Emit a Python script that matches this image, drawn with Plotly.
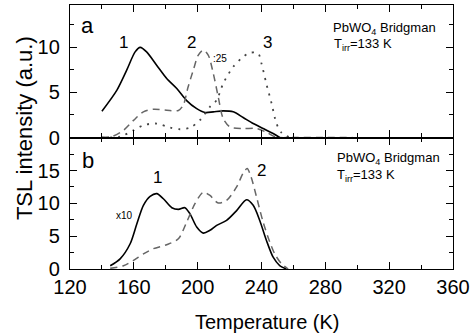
import plotly.graph_objects as go
from plotly.subplots import make_subplots

# Panel a (top)
T1a = [140, 149.4, 155.6, 160.8, 164, 168, 174.4, 180.6, 186.9, 193.1, 199.4, 204.6, 209.8, 216, 222.3, 228.5, 234.8, 241, 247.3, 251.4]
I1a = [2.92, 5.26, 7.5, 9.5, 10.0, 9.5, 8.0, 6.55, 5.44, 4.1, 3.2, 2.77, 2.85, 2.96, 2.85, 2.22, 1.55, 1.0, 0.44, 0.0]

T2a = [140, 146, 153.5, 159.8, 166, 172.3, 180.6, 187.9, 191, 194, 197.3, 200.4, 203.5, 206.6, 209.8, 212.9, 216, 220.2, 228.5, 236.9, 243, 249, 260, 280, 297]
I2a = [0.05, 0.1, 0.8, 1.9, 2.85, 3.14, 3.03, 3.0, 3.6, 5.6, 7.5, 9.15, 9.7, 9.15, 7.1, 4.5, 2.1, 1.18, 1.0, 1.0, 0.6, 0.05, 0, 0, 0]

T3a = [145, 151.5, 159.8, 166, 174.4, 182.7, 189, 195.2, 201.4, 207.7, 211.9, 216, 222.3, 228.5, 232.7, 237.9, 240, 243, 246.3, 249.4, 252.5, 258]
I3a = [0, 0.1, 0.8, 1.37, 1.55, 1.1, 0.92, 1.1, 1.92, 3.4, 4.15, 6.0, 7.85, 8.95, 9.4, 9.33, 8.2, 6.0, 3.8, 1.55, 0.55, 0]

# Panel b (bottom)
T1b = [145.2, 151.4, 157.7, 161.9, 166, 170.2, 174.4, 178.5, 183.8, 187.9, 192, 195.2, 199.4, 203.5, 207.7, 211.9, 218.1, 224.4, 230.6, 234.8, 238.9, 243.1, 247.3, 251.4, 255.6]
I1b = [0.5, 1.55, 3.85, 6.9, 9.7, 11.07, 11.48, 10.7, 9.34, 9.08, 9.34, 8.4, 6.4, 5.47, 5.9, 6.65, 7.4, 8.9, 10.56, 9.7, 7.4, 4.35, 1.8, 0.53, 0]

T2b = [145.2, 153.5, 159.8, 166, 172.3, 180.6, 187.9, 193.1, 198.3, 203.5, 207.7, 212.9, 218.1, 224.4, 228.5, 231, 233.5, 236.9, 241, 245.2, 248.3, 252.5, 256.7]
I2b = [0.1, 0.5, 1.3, 2.3, 3.1, 3.7, 4.6, 7.15, 9.95, 11.7, 11.2, 10.05, 10.45, 12.5, 14.6, 15.3, 14.0, 10.96, 7.15, 4.1, 2.3, 0.8, 0]

x_ticks = [120, 160, 200, 240, 280, 320, 360]
ya_ticks = [0, 5, 10]
yb_ticks = [0, 5, 10, 15]

FONT = "Liberation Sans, Arial, sans-serif"

fig = make_subplots(rows=2, cols=1, shared_xaxes=True, vertical_spacing=0,
                    row_heights=[0.502, 0.498])

solid = dict(color="black", width=1.6, shape="spline", smoothing=0.8)
dashed = dict(color="#666666", width=1.5, dash="7px,5px", shape="spline", smoothing=0.8)
dotted = dict(color="#444444", width=1.8, dash="2px,6px", shape="spline", smoothing=0.8)

fig.add_trace(go.Scatter(x=T1a, y=I1a, mode="lines", line=solid), row=1, col=1)
fig.add_trace(go.Scatter(x=T2a, y=I2a, mode="lines", line=dashed), row=1, col=1)
fig.add_trace(go.Scatter(x=T3a, y=I3a, mode="lines", line=dotted), row=1, col=1)
fig.add_trace(go.Scatter(x=T1b, y=I1b, mode="lines", line=solid), row=2, col=1)
fig.add_trace(go.Scatter(x=T2b, y=I2b, mode="lines", line=dashed), row=2, col=1)

axis_common = dict(showline=True, linecolor="black", linewidth=1.3, mirror="ticks",
                   ticks="inside", ticklen=7, tickwidth=1.2, tickcolor="black",
                   showgrid=False, zeroline=False, automargin=False,
                   tickfont=dict(family=FONT, size=20, color="black"))

fig.update_xaxes(range=[120, 360], tickvals=x_ticks,
                 minor=dict(dtick=20, ticks="inside", ticklen=4, tickcolor="black", tickwidth=1.2),
                 **axis_common)
fig.update_xaxes(showticklabels=False, row=1, col=1)

fig.update_yaxes(range=[0, 14.7], tickvals=ya_ticks, ticklabelstandoff=5,
                 minor=dict(tickvals=[2.5, 7.5, 12.5], ticks="inside", ticklen=4, tickcolor="black", tickwidth=1.2),
                 row=1, col=1, **axis_common)
fig.update_yaxes(range=[0, 20.03], tickvals=yb_ticks, ticklabelstandoff=5,
                 minor=dict(tickvals=[2.5, 7.5, 12.5, 17.5], ticks="inside", ticklen=4, tickcolor="black", tickwidth=1.2),
                 row=2, col=1, **axis_common)

ann = []
def A(text, x, y, yref, size, xanchor="center"):
    ann.append(dict(text=text, x=x, y=y, xref="x", yref=yref, showarrow=False,
                    xanchor=xanchor, yanchor="middle",
                    font=dict(family=FONT, size=size, color="black")))

A("a", 125.8, 12.4, "y", 22, "left")
A("1", 153.3, 10.5, "y", 17)
A("2", 196, 10.5, "y", 17)
A("3", 243.9, 10.5, "y", 17)
A(":25", 214.2, 8.76, "y", 10)
A("PbWO<sub>4</sub> Bridgman", 283.5, 12.1, "y", 13, "left")
A("T<sub>irr</sub>=133 K", 284.0, 10.36, "y", 13, "left")

A("b", 126.5, 16.5, "y2", 22, "left")
A("1", 174.6, 13.9, "y2", 17)
A("2", 240, 15.04, "y2", 17)
A("x10", 154.4, 8.1, "y2", 10)
A("PbWO<sub>4</sub> Bridgman", 286, 16.85, "y2", 13, "left")
A("T<sub>irr</sub>=133 K", 286, 14.26, "y2", 13, "left")

ann.append(dict(text="TSL intensity (a.u.)", x=-0.12, y=0.534, xref="paper", yref="paper",
                showarrow=False, textangle=-90, xanchor="center", yanchor="middle",
                font=dict(family=FONT, size=22, color="black")))
ann.append(dict(text="Temperature (K)", x=0.516, y=-0.20, xref="paper", yref="paper",
                showarrow=False, xanchor="center", yanchor="middle",
                font=dict(family=FONT, size=20, color="black")))

fig.update_layout(width=472, height=336, margin=dict(l=70, r=19, t=5, b=67),
                  paper_bgcolor="white", plot_bgcolor="white", showlegend=False,
                  annotations=ann)

fig.write_html("out.html", config={"displayModeBar": False},
               post_script="document.body.style.margin='0px';")
